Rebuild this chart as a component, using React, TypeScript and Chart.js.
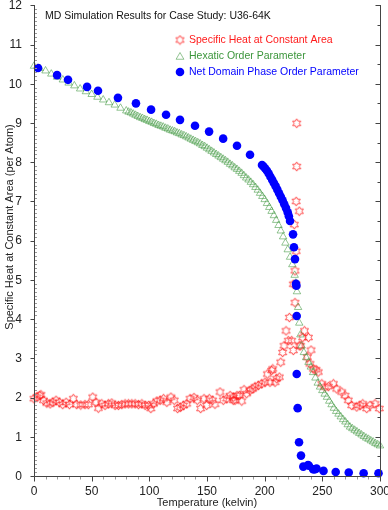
import React, { useEffect, useRef } from "react";
import { Chart, registerables } from "chart.js";

Chart.register(...registerables);

// ---------- data ----------
const chartTitle = "MD Simulation Results for Case Study: U36-64K";
const xAxisTitle = "Temperature (kelvin)";
const yAxisTitle = "Specific Heat at Constant Area (per Atom)";
const seriesNames = [
  "Specific Heat at Constant Area",
  "Hexatic Order Parameter",
  "Net Domain Phase Order Parameter",
];
const xTickValues = [0, 50, 100, 150, 200, 250, 300];
const yTickValues = [0, 1, 2, 3, 4, 5, 6, 7, 8, 9, 10, 11, 12];

// Specific heat (red hexagrams)
const heatT = [
  0, 2.6, 4.9, 6, 8.2, 11.1, 14, 16.3, 19.1, 22, 24.9, 27.8, 30.7, 34.1, 37, 40.5, 44.2, 47.1, 50.9, 53.8,
  55.8, 58.7, 61.6, 64.5, 67.4, 70.3, 73.2, 76.1, 79, 81.9, 84.8, 87.7, 90.6, 93.5, 96.4, 99.3, 101.3, 103.6,
  106.5, 109.4, 112.3, 115.2, 118.7, 121.6, 124.5, 126.8, 129.5, 132.4, 135.3, 138.7, 141.6, 144.5, 147.4,
  149.7, 152, 154.9, 156.9, 161.3, 164.1, 167.1, 170, 172.8, 172.8, 174.3, 176, 178, 180.1, 182.1, 184.4,
  187.3, 189.6, 191.6, 194.5, 197.4, 200.3, 202.3, 204.6, 206.1, 207, 209, 210.4, 212.7, 213.9, 215.6, 216.8,
  218.5, 220.5, 221.4, 223.4, 224.8, 224.8, 225.7, 226.3, 226.3, 227.2, 227.3, 227.3, 227.8, 227.8, 230, 230,
  231.2, 233, 234.5, 237, 237.9, 239.3, 240.2, 242.2, 244.5, 246.5, 249.5, 252.3, 255.2, 259.6, 262.5, 266.8,
  269.7, 272.5, 275.5, 279.8, 282.7, 285, 288.5, 291.3, 295.7, 299.4,
];
const heatV = [
  1.97, 2.01, 2.05, 2.07, 1.93, 1.86, 1.84, 1.88, 1.93, 1.88, 1.82, 1.88, 1.82, 1.97, 1.82, 1.81, 1.82, 1.82, 2.01, 1.88,
  1.73, 1.84, 1.8, 1.84, 1.86, 1.8, 1.8, 1.82, 1.84, 1.84, 1.84, 1.84, 1.82, 1.84, 1.8, 1.8, 1.72, 1.84,
  1.91, 1.93, 1.97, 1.88, 2.01, 1.93, 1.72, 1.75, 1.8, 1.84, 1.97, 2.0, 1.93, 1.72, 1.97,
  1.8, 1.97, 1.93, 1.83, 2.14, 1.93, 1.97, 2.05, 2.01, 1.93, 1.93, 2.05, 2.05, 1.91, 2.2, 2.1,
  2.18, 2.22, 2.27, 2.31, 2.35, 2.39, 2.6, 2.39, 2.69, 2.73, 2.39, 2.48, 2.52, 2.9, 3.15, 3.32,
  3.7, 3.45, 4.04, 3.45, 3.2, 4.89, 6.41, 4.42, 5.23, 4.89, 5.73, 7.0, 7.89, 8.99, 6.75, 3.32,
  3.32, 3.53, 3.7, 3.03, 3.53, 2.86, 3.21, 2.73, 2.71, 2.65, 2.35, 2.27, 2.28, 2.35, 2.22, 2.14,
  2.05, 1.93, 1.8, 1.76, 1.8, 1.84, 1.72, 1.8, 1.84, 1.72,
];

// Hexatic order parameter (green triangles)
const hexT = [
  0, 5, 10, 15, 20, 25, 30, 35, 40, 45, 50, 55, 60, 65, 70, 75, 80, 82, 84, 86, 88, 90, 92, 94, 96, 98, 100,
  102, 104, 106, 108, 110, 112, 114, 116, 118, 120, 122, 124, 126, 128, 130, 132, 134, 136, 138, 140, 142,
  144, 146, 148, 150, 152, 154, 156, 158, 160, 162, 164, 166, 168, 170, 172, 174, 176, 178, 180, 182, 184,
  186, 188, 190, 192, 194, 196, 198, 200, 202, 204, 206, 208, 210, 212, 214, 216, 218, 220, 222, 224, 226,
  227, 228, 229, 230, 231, 232, 234, 236, 238, 240, 242, 244, 246, 248, 250, 252, 254, 256, 258, 260, 262,
  264, 266, 268, 270, 272, 274, 276, 278, 280, 282, 284, 286, 288, 290, 292, 294, 296, 298, 300,
];
const hexV = [
  10.45, 10.39, 10.33, 10.25, 10.17, 10.1, 10.02, 9.95, 9.87, 9.8, 9.73, 9.66, 9.59, 9.52, 9.46, 9.38, 9.31,
  9.28, 9.26, 9.23, 9.2, 9.17, 9.14, 9.12, 9.09, 9.07, 9.04, 9.02, 8.99, 8.97, 8.94, 8.92, 8.9, 8.87, 8.85,
  8.82, 8.8, 8.78, 8.75, 8.73, 8.7, 8.68, 8.65, 8.62, 8.59, 8.56, 8.53, 8.5, 8.47, 8.43, 8.4, 8.36, 8.32,
  8.28, 8.24, 8.2, 8.16, 8.12, 8.08, 8.04, 8.0, 7.95, 7.91, 7.86, 7.82, 7.77, 7.72, 7.66, 7.6, 7.55, 7.49,
  7.43, 7.36, 7.29, 7.21, 7.13, 7.05, 6.95, 6.85, 6.75, 6.64, 6.52, 6.39, 6.25, 6.1, 5.94, 5.77, 5.58, 5.39,
  5.12, 4.92, 4.7, 4.3, 3.9, 3.6, 3.32, 3.15, 3.02, 2.9, 2.78, 2.64, 2.5, 2.37, 2.27, 2.18, 2.09, 2.01, 1.91,
  1.82, 1.73, 1.65, 1.58, 1.51, 1.44, 1.38, 1.31, 1.25, 1.21, 1.17, 1.13, 1.09, 1.05, 1.01, 0.97, 0.94, 0.9,
  0.87, 0.83, 0.8, 0.77,
];

// Net domain phase order parameter (blue circles)
const domainT = [
  3.5, 20, 29.5, 46, 55.5, 72.8, 88.4, 101.5, 114.5, 126.6, 139.6, 151.8, 164, 176, 187.3, 197.7, 199, 200.5,
  202, 203.5, 205, 206.5, 208, 209.5, 211, 212.5, 214, 215.5, 217, 218.5, 220, 221, 222, 224.6, 225.4, 226.3,
  227.2, 227.5, 227.8, 227.8, 228.6, 229.8, 231.5, 233.5, 237.6, 238.4, 242, 243.6, 245, 251, 261.6, 272.9,
  285.8, 298.7,
];
const domainV = [
  10.4, 10.22, 10.1, 9.92, 9.82, 9.64, 9.5, 9.34, 9.21, 9.08, 8.93, 8.78, 8.6, 8.42, 8.19, 7.93, 7.89, 7.84,
  7.78, 7.71, 7.63, 7.55, 7.47, 7.39, 7.3, 7.21, 7.12, 7.03, 6.93, 6.83, 6.72, 6.62, 6.5, 6.16, 5.83, 5.53,
  4.9, 4.85, 4.08, 2.6, 1.73, 0.86, 0.52, 0.24, 0.28, 0.26, 0.17, 0.17, 0.19, 0.13, 0.1, 0.09, 0.07, 0.07,
];

// ---------- styles ----------
const RED = "rgba(255,20,20,0.75)";
const GREEN = "rgba(60,150,60,0.55)";
const BLUE = "#0000ff";
const FONT = "'Liberation Sans', Arial, Helvetica, sans-serif";

function makeHexagram(color: string): HTMLCanvasElement {
  const c = document.createElement("canvas");
  c.width = 11;
  c.height = 11;
  const ctx = c.getContext("2d")!;
  const cx = 5.5, cy = 5.5, R = 4.6, r = R / Math.sqrt(3);
  ctx.beginPath();
  for (let i = 0; i < 12; i++) {
    const a = -Math.PI / 2 + (i * Math.PI) / 6;
    const rad = i % 2 === 0 ? R : r;
    const x = cx + rad * Math.cos(a);
    const y = cy + rad * Math.sin(a);
    if (i === 0) ctx.moveTo(x, y);
    else ctx.lineTo(x, y);
  }
  ctx.closePath();
  ctx.strokeStyle = color;
  ctx.lineWidth = 1;
  ctx.stroke();
  return c;
}

function zip(xs: number[], ys: number[]) {
  return xs.map((x, i) => ({ x, y: ys[i] }));
}

const decorPlugin = {
  id: "decor",
  afterDatasetsDraw(chart: any) {
    const ctx: CanvasRenderingContext2D = chart.ctx;
    const { left, right, top, bottom } = chart.chartArea;
    const xs = chart.scales.x;
    const ys = chart.scales.y;
    ctx.save();
    const axisColor = "#444";
    const minorColor = "#999";
    ctx.lineWidth = 1;

    const L = Math.round(left) + 0.5;
    const R = Math.round(right) + 0.5;
    const B = Math.round(bottom) + 0.5;
    const T = Math.round(top);

    // minor ticks y (left, inward) every 0.1
    ctx.strokeStyle = minorColor;
    ctx.beginPath();
    for (let k = 1; k < 120; k++) {
      if (k % 10 === 0) continue;
      const y = Math.round(ys.getPixelForValue(k / 10)) + 0.5;
      ctx.moveTo(L, y);
      ctx.lineTo(L + 2.5, y);
    }
    // minor ticks x (outward) every 10
    for (let k = 0; k <= 300; k += 10) {
      if (k % 50 === 0) continue;
      const x = Math.round(xs.getPixelForValue(k)) + 0.5;
      ctx.moveTo(x, B);
      ctx.lineTo(x, B + 3);
    }
    ctx.stroke();

    ctx.strokeStyle = axisColor;
    ctx.beginPath();
    // axes lines
    ctx.moveTo(L, T);
    ctx.lineTo(L, B);
    ctx.lineTo(R, B);
    ctx.moveTo(R, T);
    ctx.lineTo(R, B);
    // y major ticks (outward)
    for (const v of yTickValues) {
      const y = Math.round(ys.getPixelForValue(v)) + 0.5;
      ctx.moveTo(L - 4, y);
      ctx.lineTo(L, y);
    }
    // x major ticks
    for (const v of xTickValues) {
      const x = Math.round(xs.getPixelForValue(v)) + 0.5;
      ctx.moveTo(x, B);
      ctx.lineTo(x, B + 5);
    }
    // right axis ticks (inward) every 0.5
    for (let k = 0; k <= 24; k++) {
      const y = Math.round(ys.getPixelForValue(k / 2)) + 0.5;
      const len = k % 2 === 0 ? 5 : 3;
      ctx.moveTo(R - len, y);
      ctx.lineTo(R, y);
    }
    ctx.stroke();

    // tick labels
    ctx.fillStyle = "#222";
    ctx.font = `12px ${FONT}`;
    ctx.textAlign = "right";
    ctx.textBaseline = "middle";
    for (const v of yTickValues) {
      ctx.fillText(String(v), left - 12, ys.getPixelForValue(v) + 0.5);
    }
    ctx.textAlign = "center";
    for (const v of xTickValues) {
      ctx.fillText(String(v), xs.getPixelForValue(v), bottom + 16);
    }

    // axis titles
    ctx.font = `11px ${FONT}`;
    ctx.fillText(xAxisTitle, (left + right) / 2, bottom + 27);
    ctx.save();
    ctx.translate(10, 227);
    ctx.rotate(-Math.PI / 2);
    ctx.fillText(yAxisTitle, 0, 0);
    ctx.restore();

    // title
    ctx.textAlign = "left";
    ctx.font = `10.5px ${FONT}`;
    ctx.fillStyle = "#111";
    ctx.fillText(chartTitle, 45, 16);

    // legend
    const items = [
      { y: 40, color: "#ff1a1a" },
      { y: 56, color: "#3c963c" },
      { y: 72, color: BLUE },
    ];
    items.forEach((it, i) => {
      const ds = chart.data.datasets[i];
      const mx = 180;
      if (i === 0) {
        ctx.drawImage(ds.pointStyle, mx - 5.5, it.y - 5.5);
      } else if (i === 1) {
        const r = 4.5;
        ctx.beginPath();
        for (let j = 0; j < 3; j++) {
          const a = -Math.PI / 2 + (j * 2 * Math.PI) / 3;
          const px = mx + r * Math.cos(a);
          const py = it.y + 1 + r * Math.sin(a);
          if (j === 0) ctx.moveTo(px, py);
          else ctx.lineTo(px, py);
        }
        ctx.closePath();
        ctx.strokeStyle = GREEN;
        ctx.stroke();
      } else {
        ctx.beginPath();
        ctx.arc(mx, it.y, 4.3, 0, Math.PI * 2);
        ctx.fillStyle = BLUE;
        ctx.fill();
      }
      ctx.fillStyle = it.color;
      ctx.fillText(seriesNames[i], 189, it.y);
    });

    ctx.restore();
  },
};

export default function App() {
  const ref = useRef<HTMLCanvasElement | null>(null);
  useEffect(() => {
    if (!ref.current) return;
    const star = makeHexagram(RED);
    const chart = new Chart(ref.current, {
      type: "scatter",
      data: {
        datasets: [
          {
            label: seriesNames[0],
            data: zip(heatT, heatV),
            pointStyle: star as any,
            pointRadius: 4,
            borderColor: RED,
            backgroundColor: "transparent",
            order: 2,
            clip: false as any,
          },
          {
            label: seriesNames[1],
            data: zip(hexT, hexV),
            pointStyle: "triangle",
            pointRadius: 4.3,
            borderWidth: 1,
            borderColor: GREEN,
            backgroundColor: "transparent",
            order: 1,
            clip: false as any,
          },
          {
            label: seriesNames[2],
            data: zip(domainT, domainV),
            pointStyle: "circle",
            pointRadius: 4.3,
            borderWidth: 0,
            borderColor: BLUE,
            backgroundColor: BLUE,
            order: 0,
            clip: false as any,
          },
        ],
      },
      options: {
        responsive: false,
        animation: false,
        devicePixelRatio: 1,
        layout: { padding: { left: 34, right: 8, top: 3, bottom: 34 } },
        scales: {
          x: { type: "linear", min: 0, max: 300, display: false },
          y: { type: "linear", min: 0, max: 12, display: false },
        },
        plugins: {
          legend: { display: false },
          tooltip: { enabled: false },
          title: { display: false },
        },
      },
      plugins: [decorPlugin],
    });
    return () => chart.destroy();
  }, []);
  return (
    <div style={{ position: "fixed", left: 0, top: 0, width: 388, height: 510, background: "#fff" }}>
      <canvas ref={ref} width={388} height={510} style={{ display: "block" }} />
    </div>
  );
}
